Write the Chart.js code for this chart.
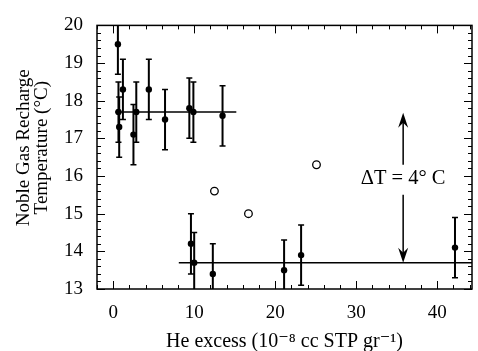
<!DOCTYPE html>
<html>
<head>
<meta charset="utf-8">
<script src="https://cdn.jsdelivr.net/npm/chart.js@4.4.1/dist/chart.umd.min.js"></script>
<style>
  html, body { margin: 0; padding: 0; background: #fff; }
</style>
</head>
<body>
<canvas id="chart" width="478" height="351"></canvas>
<script>
// measured samples (filled circles, with error bars)
const heExcess = [0.58, 0.65, 0.74, 1.2, 2.5, 2.85, 4.4, 6.4, 9.4, 9.9, 13.5, 9.6, 10.0, 12.3, 21.1, 23.2, 42.2];
const temps    = [19.5, 17.7, 17.3, 18.3, 17.1, 17.7, 18.3, 17.5, 17.8, 17.7, 17.6, 14.2, 13.7, 13.4, 13.5, 13.9, 14.1];
const tempErr  = [0.8, 0.8, 0.8, 0.8, 0.8, 0.8, 0.8, 0.8, 0.8, 0.8, 0.8, 0.8, 0.8, 0.8, 0.8, 0.8, 0.8];

// open circles
const heOpen   = [12.5, 16.7, 25.1];
const tempOpen = [15.6, 15.0, 16.3];

// mean lines
const upperLineX = [0.25, 15.2];
const upperLineY = [17.7, 17.7];
const lowerLineX = [8.1, 44.3];
const lowerLineY = [13.7, 13.7];

// delta T arrow
const arrowX = 35.8;
const arrowFrom = [17.68, 16.3];
const arrowTo = [13.7, 15.5];
const arrowLabel = 'ΔT = 4° C';
const arrowLabelY = 15.94;

const xTicks = [0, 10, 20, 30, 40];
const yTicks = [13, 14, 15, 16, 17, 18, 19, 20];

const serif = '"Liberation Serif", "DejaVu Serif", serif';

const toPts = (xs, ys) => xs.map((v, i) => ({ x: v, y: ys[i] }));

function arrowHead(ctx, x, y, dir) {
  // dir = -1 points up, 1 points down
  ctx.beginPath();
  ctx.moveTo(x, y);
  ctx.lineTo(x - 5, y - dir * 15);
  ctx.lineTo(x, y - dir * 10);
  ctx.lineTo(x + 5, y - dir * 15);
  ctx.closePath();
  ctx.fill();
}

const extras = {
  id: 'extras',
  beforeDatasetsDraw(chart) {
    const { ctx, chartArea: a, scales: { x, y } } = chart;
    ctx.save();
    ctx.beginPath();
    ctx.rect(a.left, a.top, a.right - a.left, a.bottom - a.top);
    ctx.clip();
    ctx.strokeStyle = '#000';
    ctx.lineWidth = 2;
    heExcess.forEach((v, i) => {
      const px = x.getPixelForValue(v);
      const top = y.getPixelForValue(temps[i] + tempErr[i]);
      const bot = y.getPixelForValue(temps[i] - tempErr[i]);
      ctx.beginPath();
      ctx.moveTo(px, top); ctx.lineTo(px, bot);
      ctx.stroke();
      ctx.lineWidth = 1.5;
      ctx.beginPath();
      ctx.moveTo(px - 3, top); ctx.lineTo(px + 3, top);
      ctx.moveTo(px - 3, bot); ctx.lineTo(px + 3, bot);
      ctx.stroke();
      ctx.lineWidth = 2;
    });
    ctx.restore();
  },
  afterDraw(chart) {
    const { ctx, chartArea: a, scales: { x, y } } = chart;
    ctx.save();
    ctx.strokeStyle = '#000';
    ctx.fillStyle = '#000';

    // frame
    ctx.lineWidth = 1.5;
    ctx.strokeRect(a.left, a.top, a.right - a.left, a.bottom - a.top);

    // inward ticks on all four sides
    ctx.lineWidth = 1;
    ctx.beginPath();
    for (let v = -2; v <= x.max + 0.001; v += 2) {
      const px = Math.round(x.getPixelForValue(v)) + 0.5;
      const len = Math.abs(v % 10) < 0.001 ? 8 : 4;
      ctx.moveTo(px, a.bottom); ctx.lineTo(px, a.bottom - len);
      ctx.moveTo(px, a.top); ctx.lineTo(px, a.top + len);
    }
    for (let k = 0; k <= 35; k++) {
      const v = 13 + k * 0.2;
      const py = Math.round(y.getPixelForValue(v)) + 0.5;
      const len = k % 5 === 0 ? 8 : 4;
      ctx.moveTo(a.left, py); ctx.lineTo(a.left + len, py);
      ctx.moveTo(a.right, py); ctx.lineTo(a.right - len, py);
    }
    ctx.stroke();

    // delta T arrow
    const ax = x.getPixelForValue(arrowX);
    ctx.lineWidth = 1.5;
    ctx.beginPath();
    ctx.moveTo(ax, y.getPixelForValue(arrowFrom[0]) + 8);
    ctx.lineTo(ax, y.getPixelForValue(arrowFrom[1]));
    ctx.moveTo(ax, y.getPixelForValue(arrowTo[1]));
    ctx.lineTo(ax, y.getPixelForValue(arrowTo[0]) - 8);
    ctx.stroke();
    arrowHead(ctx, ax, y.getPixelForValue(arrowFrom[0]), -1);
    arrowHead(ctx, ax, y.getPixelForValue(arrowTo[0]), 1);

    ctx.font = '20.5px ' + serif;
    ctx.textAlign = 'center';
    ctx.textBaseline = 'middle';
    ctx.fillText(arrowLabel, ax, y.getPixelForValue(arrowLabelY));
    ctx.restore();
  }
};

new Chart(document.getElementById('chart'), {
  type: 'scatter',
  data: {
    datasets: [
      {
        data: toPts(upperLineX, upperLineY),
        showLine: true,
        borderColor: '#000',
        borderWidth: 1.5,
        pointRadius: 0
      },
      {
        data: toPts(lowerLineX, lowerLineY),
        showLine: true,
        borderColor: '#000',
        borderWidth: 1.5,
        pointRadius: 0
      },
      {
        data: toPts(heExcess, temps),
        pointRadius: 3.2,
        pointBackgroundColor: '#000',
        pointBorderColor: '#000',
        pointBorderWidth: 0
      },
      {
        data: toPts(heOpen, tempOpen),
        pointRadius: 3.8,
        pointBackgroundColor: '#fff',
        pointBorderColor: '#000',
        pointBorderWidth: 1.3
      }
    ]
  },
  options: {
    responsive: false,
    animation: false,
    layout: { padding: { top: 17, right: 6, left: 0, bottom: 0 } },
    plugins: {
      legend: { display: false },
      tooltip: { enabled: false }
    },
    scales: {
      x: {
        type: 'linear',
        min: -2,
        max: 44.3,
        afterBuildTicks: s => { s.ticks = xTicks.map(v => ({ value: v })); },
        afterFit: s => { s.height = 62; },
        grid: { display: false, drawTicks: false },
        border: { display: false },
        ticks: { color: '#000', padding: 13, maxRotation: 0, font: { family: serif, size: 19 } },
        title: {
          display: true,
          text: 'He excess (10⁻⁸ cc STP gr⁻¹)',
          color: '#000',
          padding: { top: 0, bottom: -1 },
          font: { family: serif, size: 20, lineHeight: 1 }
        }
      },
      y: {
        min: 13,
        max: 20,
        afterBuildTicks: s => { s.ticks = yTicks.map(v => ({ value: v })); },
        afterFit: s => { s.width = 97; },
        grid: { display: false, drawTicks: false },
        border: { display: false },
        ticks: { color: '#000', padding: 14, font: { family: serif, size: 19 } },
        title: {
          display: true,
          text: ['    Noble Gas Recharge', '    Temperature (°C)'],
          color: '#000',
          padding: { top: 15, bottom: 0 },
          font: { family: serif, size: 19, lineHeight: 0.95 }
        }
      }
    }
  },
  plugins: [extras]
});
</script>
</body>
</html>
